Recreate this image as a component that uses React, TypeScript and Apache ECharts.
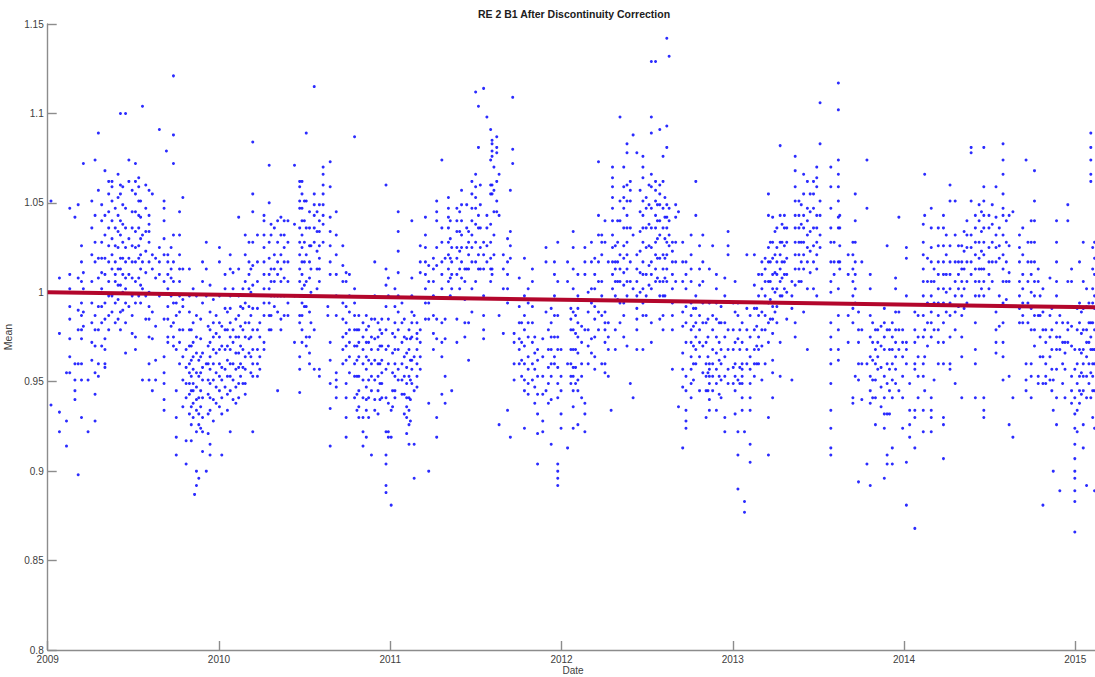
import { useEffect, useRef } from "react";
import * as echarts from "echarts";

// Axis ticks and the fitted trend line
const yearTicks = [2009, 2010, 2011, 2012, 2013, 2014, 2015];
const dateMin = 2009;
const dateMax = 2015.115;
const meanMin = 0.8;
const meanMax = 1.15;
const meanStep = 0.05;
const trendDates = [2009, 2015.115];
const trendMeans = [1.0, 0.9916];

// Daily means, grouped per acquisition day: [dayOfYear, mean, mean, ...]
const mean2009: number[][] = [
  [7, 1.051, .937], [25, 1.008, .977, .933, .922], [40, .955, .928, .914],
  [47, 1.047, 1.010, 1.002, .992, .985, .974, .964, .955], [58, 1.042, .960, .951, .945, .940],
  [65, 1.049, 1.008, .990, .979, .960, .898], [72, 1.026, 1.017, 1.006, .994, .987, .979, .974, .960, .951, .930],
  [76, 1.072, 1.011, 1.002, .989, .981], [86, .922, .951], [94, 1.051, 1.036, 1.021, 1.006, .994, .983, .972, .962],
  [101, 1.074, 1.043, 1.028, 1.017, .987, .979, .970, .955, .943, .928],
  [108, 1.089, 1.057, 1.019, 1.008, .992, .979, .960, .953],
  [115, 1.049, 1.040, 1.028, 1.019, 1.011, 1.002, .992, .983, .970],
  [122, 1.068, 1.043, 1.032, 1.019, 1.010, .994, .985, .974, .968, .960, .958],
  [130, 1.062, 1.055, 1.045, 1.036, 1.026, 1.017, 1.006, .998, .987, .979],
  [137, 1.062, 1.059, 1.051, 1.040, 1.030, 1.021, 1.013, .998, .989],
  [144, 1.047, 1.036, 1.026, 1.017, 1.010, 1.006, .994, .983],
  [150, 1.066, 1.053, 1.043, 1.034, 1.025, 1.013, 1.004, .996, .985],
  [155, 1.100, 1.060, 1.055, 1.040, 1.032, 1.019, 1.013, 1.004, .989, .979],
  [160, 1.059, 1.049, 1.038, 1.028, 1.019, 1.010, 1.000, .990],
  [166, 1.100, 1.047, 1.036, 1.025, 1.017, 1.008, 1.002, .994, .983, .966],
  [173, 1.074, 1.062, 1.030, 1.019, 1.010, .992],
  [180, 1.057, 1.045, 1.036, 1.026, 1.017, 1.008, .998, .987, .977],
  [187, 1.072, 1.062, 1.055, 1.045, 1.034, 1.025, 1.017, 1.006, .994, .975, .968],
  [194, 1.064, 1.059, 1.051, 1.043, 1.036, 1.026, 1.019, 1.008, .998],
  [198, 1.051, 1.042, 1.030, 1.021, 1.013, 1.004, .994],
  [202, 1.104, 1.032, 1.017, 1.002, .951],
  [209, 1.060, 1.047, 1.034, 1.023, 1.011, .998, .985],
  [216, 1.057, 1.043, 1.038, 1.034, 1.028, 1.017, 1.000, .992, .985, .975, .960, .951],
  [223, 1.055, 1.021, 1.013, .989, .974, .945], [230, 1.019, 1.008, .981, .962, .951],
  [238, 1.091, 1.025, 1.017, 1.010, .998],
  [248, 1.051, 1.047, 1.040, 1.030, 1.021, 1.006, .985, .964, .955, .949, .940, .934],
  [253, 1.079], [256, 1.021, 1.017, 1.010, 1.002, .992, .985, .975, .972],
  [263, 1.025, 1.013, 1.008, .998, .981],
  [268, 1.121, 1.088, 1.072, 1.032, 1.017, 1.006, .994, .983, .975, .970],
  [274, .994, .987, .968, .945, .930, .919, .909],
  [281, 1.045, 1.032, 1.021, 1.013, 1.006, .998, .989, .979, .972, .960],
  [288, 1.053, 1.013, .996, .992, .979, .964, .951, .936],
  [295, .968, .958, .949, .941, .917, .904],
  [302, 1.013, .998, .989, .979, .970, .960, .955, .949, .943, .932],
  [306, .979, .970, .962, .953, .945, .936, .926, .917],
  [310, 1.002, .983, .972, .964, .957, .949, .945, .938, .930], [313, .887],
  [317, .998, .987, .975, .966, .955, .947, .940, .934, .922, .900, .892],
  [322, .962, .953, .941, .932, .926, .896],
  [326, .985, .974, .964, .955, .945, .936, .924],
  [330, 1.017, 1.006, .994, .966, .958, .951, .941, .930, .922, .911],
  [338, 1.028, 1.013, .998, .960, .900],
  [342, .981, .970, .960, .951, .943, .932, .921],
  [346, 1.004, .989, .979, .972, .964, .957, .949, .941, .934, .915, .909],
  [353, .996, .983, .975, .968, .960, .951, .940, .928],
  [359, .987, .977, .966, .955, .947, .938],
];

const mean2010: number[][] = [
  [1, 1.025, 1.017, .998, .983, .975, .968, .960, .953, .945, .936],
  [6, .981, .970, .958, .951, .941, .932, .909], [13, 1.010, 1.002, .991, .979, .968, .957, .947],
  [18, .989, .979, .970, .962, .953, .943, .934],
  [24, 1.021, 1.013, .998, .991, .983, .975, .968, .960, .953, .945, .922],
  [30, 1.011, 1.002, .979, .972, .960, .951, .940], [36, .985, .975, .966, .957, .947, .938],
  [42, 1.042, 1.013, .998, .987, .975, .966, .958, .949, .941], [46, .992, .981, .970, .960, .953],
  [51, 1.002, .991, .979, .968, .958, .949],
  [56, 1.032, 1.021, 1.006, .994, .983, .975, .964, .957, .949, .943],
  [64, 1.028, 1.017, 1.010, 1.002, .992, .983, .974, .966], [68, 1.013, 1.000, .987, .975, .964, .955],
  [72, 1.084, 1.055, 1.045, 1.028, 1.015, 1.004, .991, .979, .968, .960, .953, .922],
  [82, 1.032, 1.017, 1.006, .991, .979, .968, .960, .953], [87, .983, .975, .964, .957],
  [96, 1.043, 1.040, 1.032, 1.025, 1.017, 1.010, 1.002, .994, .987, .972, .968],
  [107, 1.071, 1.050, 1.028, 1.019, 1.010, 1.002, .994, .987, .979],
  [111, 1.038, 1.032, 1.013, 1.006, .998, .987, .979], [118, 1.036, 1.021, 1.013, 1.006, .998, .992],
  [125, 1.040, 1.028, 1.017, 1.010, .998, .989, .945],
  [132, 1.042, 1.032, 1.021, 1.013, 1.006, .998, .985, .979],
  [139, 1.040, 1.032, 1.025, 1.017, 1.008, .998, .987], [147, 1.040, 1.028, 1.017, 1.006, .994, .987],
  [161, 1.071, 1.038, .998, .972],
  [172, 1.062, 1.059, 1.051, 1.047, 1.036, 1.028, 1.021, 1.013, 1.006, .998, .987, .983, .964, .957, .944],
  [177, 1.062, 1.055, 1.047, 1.040, 1.032, 1.025, 1.017, 1.010, 1.002, .994, .987, .979, .972],
  [182, 1.051, 1.040, 1.028, 1.017, 1.004, .992],
  [186, 1.089, 1.051, 1.036, 1.021, 1.006, .992, .975, .970],
  [193, 1.045, 1.036, 1.026, 1.017, 1.008, .998, .989, .975, .966, .960],
  [196, 1.026, 1.013, 1.000, .983],
  [203, 1.115, 1.055, 1.049, 1.043, 1.036, 1.028, .979, .957],
  [209, 1.045, 1.034, 1.023, 1.013, 1.002],
  [214, 1.049, 1.040, 1.034, 1.026, 1.019, 1.013, 1.006, .957, .953],
  [222, 1.070, 1.066, 1.060, 1.055, 1.049, 1.043, 1.038, 1.028], [232, .992, .987],
  [237, 1.073, 1.059, 1.042, 1.034, 1.026, 1.017, 1.010, .972, .962, .949, .935, .914],
  [250, 1.045, 1.032, 1.021, 1.010, .998, .987, .955, .951, .947, .941],
  [264, 1.026, 1.015, 1.006, .994, .985, .975, .968, .960],
  [271, 1.011, 1.006, .992, .983, .977, .970, .962, .949, .941, .930, .919],
  [278, 1.010, .998, .989, .979, .972, .964, .955],
  [289, 1.087, 1.002, .994, .987, .979, .970, .960, .953, .941],
  [294, .979, .970, .962, .953, .943, .934],
  [298, .987, .979, .972, .964, .953, .945, .936, .930],
  [307, .983, .975, .968, .960, .951, .941, .930, .922, .914],
  [314, .987, .979, .972, .964, .957, .947, .940, .934, .919],
  [319, .981, .972, .962, .951, .941, .930],
  [325, .985, .975, .968, .960, .953, .945, .909],
  [332, 1.017, .998, .985, .974, .962, .951, .940, .934],
  [339, .983, .975, .968, .960, .953, .945, .932], [343, .979, .970, .960, .949, .940],
  [347, .985, .977, .970, .962, .955, .949, .941],
  [356, 1.060, 1.013, 1.004, .992, .979, .968, .957, .941, .922, .909, .904, .892, .888],
  [361, 1.008, .998, .985, .970, .960, .938, .922, .919],
];

const mean2011: number[][] = [
  [2, .934, .881, .919], [5, .977, .966, .955, .945, .936],
  [10, 1.002, .992, .983, .975, .968, .960, .953, .945, .941],
  [17, 1.045, 1.034, 1.023, 1.011, .998, .989, .979, .968, .957, .951],
  [25, .994, .983, .972, .960, .951, .943], [30, .985, .975, .964, .953, .943, .932],
  [35, .974, .966, .958, .949, .941, .936, .930, .921],
  [40, .979, .968, .953, .941, .934, .926, .915], [43, .974, .962, .951, .940, .928],
  [46, 1.040, 1.008, .998, .989, .983, .975, .962, .957, .949], [51, .987, .964, .945, .915, .896],
  [57, .983, .977, .974, .968, .960, .953, .947], [64, 1.026, 1.017, 1.011, .979, .972, .964, .957],
  [75, 1.042, 1.032, 1.025, 1.017, 1.010, 1.002, .994, .985], [82, 1.015, 1.006, .994, .985, .938, .900],
  [92, 1.019, 1.013, 1.006, .998, .987, .977, .968],
  [99, 1.051, 1.045, 1.040, 1.025, 1.015, .985, .974, .930, .919],
  [110, 1.074, 1.036, 1.028, 1.017, 1.010, 1.002, .983, .972, .964, .943],
  [117, 1.019, .985, .974, .953, .938], [124, 1.053, 1.047, 1.042, 1.036, 1.028, 1.021, 1.013, 1.006],
  [128, 1.040, 1.030, 1.019, 1.008, .998],
  [131, 1.025, 1.017, 1.010, 1.002, .945], [142, 1.047, 1.040, 1.034, 1.025, 1.019, 1.010, .985, .972],
  [148, 1.045, 1.034, 1.023, 1.013, 1.002],
  [152, 1.057, 1.049, 1.040, 1.032, 1.025, 1.017, 1.008], [159, 1.013, 1.006, .996, .983, .975],
  [163, 1.049, 1.036, 1.025, 1.013],
  [167, 1.034, 1.028, 1.021, 1.013, .983, .962],
  [174, 1.062, 1.055, 1.047, 1.040, 1.032, 1.025, 1.017, 1.002, .989],
  [182, 1.112, 1.066, 1.059, 1.053, 1.047, 1.038, 1.028, 1.017, 1.006],
  [188, 1.104, 1.081, 1.043, 1.036, 1.021, 1.013], [192, 1.060, 1.049, 1.036, 1.025, 1.013],
  [199, 1.114, 1.028, 1.021, 1.013, .998, .987, .979, .974],
  [206, 1.098, 1.043, 1.036, 1.026, 1.017],
  [214, 1.091, 1.074, 1.060, 1.055, 1.038, 1.028, 1.019, 1.013, 1.006],
  [217, 1.085, 1.083, 1.079, 1.076, 1.060, 1.055, 1.013, 1.010],
  [221, 1.070, 1.057, 1.045, 1.032, 1.021],
  [227, 1.087, 1.081, 1.078, 1.062, 1.051, 1.045], [232, 1.066, 1.043, .987, .926],
  [241, 1.021, 1.013, 1.002, .977], [250, 1.030, 1.017, 1.010, 1.002, .994, .934],
  [256, 1.057, 1.034, 1.026, 1.019, .919], [261, 1.109, 1.080, 1.072], [264, .977, .972, .960, .951],
  [275, 1.008, .992, .983, .974, .968, .960], [280, .983, .972, .962, .953],
  [286, 1.019, .998, .987, .979, .970, .960, .951, .945, .924],
  [294, 1.002, .994, .983, .975, .964, .957, .949, .943], [303, 1.013, 1.006, .992, .983, .972, .960, .951],
  [308, .975, .966, .957, .947, .938],
  [314, .968, .962, .953, .943, .932, .921, .904], [325, .974, .964, .953, .943, .928, .922],
  [332, 1.025, 1.017, .989, .945], [337, .979, .968, .958, .949, .938],
  [343, .991, .983, .975, .968, .960, .953, .940, .915],
  [350, 1.017, 1.010, .998, .987, .975, .964, .960],
  [357, 1.028, 1.006, .987, .975, .968, .958, .949, .941, .904, .900, .896, .892],
  [364, .968, .953, .945, .932, .924],
];

const mean2012: number[][] = [
  [13, 1.017, 1.006, .960, .913], [20, .991, .985, .979, .968, .960, .953, .949],
  [25, 1.034, 1.025, 1.013, 1.002, .989, .979, .968, .958, .953, .945, .936, .924],
  [30, .987, .977, .968, .958, .949],
  [35, 1.010, .998, .991, .983, .975, .966, .951, .945, .926], [43, .981, .972, .960, .953, .941],
  [50, 1.025, 1.017, 1.010, .979, .938, .932, .922], [57, 1.000, .989, .979, .970, .960],
  [64, 1.028, 1.017, 1.002, .994, .974, .966],
  [71, 1.019, 1.010, 1.002, .992, .985, .975, .964, .957],
  [79, 1.073, 1.043, 1.032, 1.017, 1.006, .989, .979], [86, 1.032, 1.028, 1.021, 1.006, .998, .987, .960],
  [93, 1.040, 1.028, .989, .983, .979, .972, .960, .955], [100, 1.017, .983, .975, .968, .953], [106, .934],
  [109, 1.070, 1.064, 1.059, 1.053, 1.047, 1.040, 1.032, 1.025, 1.017, 1.010, 1.002],
  [115, 1.026, 1.017, 1.013, 1.006, .998, .979, .968], [120, 1.040, 1.028, 1.017, 1.006, .996],
  [125, 1.098, 1.051, 1.040, 1.021, 1.013, 1.006, .994, .983],
  [133, 1.070, 1.059, 1.053, 1.047, 1.036, 1.026, 1.019, 1.011, 1.004, .994, .987, .975],
  [140, 1.083, 1.078, 1.060, 1.051, 1.043, 1.036, 1.028, 1.021, 1.013, 1.006, .998, .970],
  [147, 1.062, 1.057, 1.051, 1.036, 1.017, 1.006, .949], [153, 1.088, 1.032, 1.002, .941],
  [161, 1.078, 1.021, 1.013, 1.006, .998, .991, .985, .979, .968],
  [168, 1.057, 1.045, 1.034, 1.023, 1.011, 1.000],
  [174, 1.076, 1.070, 1.064, 1.051, 1.043, 1.036, 1.028, 1.017, 1.010, 1.002, .994, .987, .968],
  [181, 1.053, 1.047, 1.036, 1.025, 1.010, .998, .987],
  [187, 1.060, 1.049, 1.038, 1.026, 1.015, 1.004],
  [192, 1.129, 1.098, 1.089, 1.066, 1.059, 1.047, 1.036, 1.025, 1.017, 1.010, 1.002, .983, .972],
  [201, 1.129, 1.062, 1.057, 1.051, 1.043, 1.036, 1.028, 1.021, 1.013, 1.006],
  [205, 1.049, 1.040, 1.030, 1.019, 1.008],
  [210, 1.091, 1.060, 1.055, 1.049, 1.040, 1.032, 1.019, 1.006, .998, .985],
  [217, 1.076, 1.062, 1.047, 1.036, 1.021, 1.013, 1.006, .998, .987, .979],
  [221, 1.053, 1.042, 1.030, 1.019, 1.008, .998],
  [225, 1.142, 1.093, 1.081, 1.049, 1.042, 1.036, 1.028, 1.021, 1.013, 1.006],
  [230, 1.132, 1.047, 1.040, 1.032, 1.026],
  [237, 1.028, 1.023, 1.017, 1.010, 1.002, .994, .987, .979, .957],
  [244, 1.049, 1.042, 1.028, 1.017, 1.006], [250, 1.045, .936],
  [259, 1.028, 1.017, 1.006, .989, .981, .966, .957, .947, .913],
  [266, 1.017, 1.010, 1.002, .992, .983, .972, .953, .945, .934, .928, .924],
  [277, 1.032, 1.021, 1.013, 1.006, .994, .987, .979, .972, .964, .957, .949, .941],
  [282, .991, .981, .970, .960, .951],
  [287, 1.062, 1.043, .998, .991, .983, .975, .968, .960],
  [295, 1.026, 1.013, 1.004, .987, .979, .972, .964, .945],
  [302, 1.032, 1.017, 1.006, .994, .983, .970, .955], [309, .983, .972, .960, .953, .945, .930],
  [313, .985, .975, .964, .955, .945],
  [316, 1.013, .994, .960, .957, .953, .949, .940, .934], [323, 1.026, .987, .979, .968, .960, .953, .945],
  [331, 1.010, 1.002, .994, .985, .975, .966, .957, .949, .934], [337, .983, .972, .962, .953, .943],
  [341, .992, .983, .968, .960, .951, .941],
  [349, 1.008, .998, .983, .975, .964, .953, .930, .922], [356, 1.034, 1.026, 1.021, .979, .968, .957, .949],
];

const mean2013: number[][] = [
  [1, .994, .979, .968, .958, .949], [5, 1.006, .989, .972, .960, .953, .945, .932],
  [11, .994, .987, .974, .951, .922, .909, .890], [15, .979, .968, .958, .949],
  [20, .983, .972, .960, .957, .953, .949, .941, .934],
  [25, .922, .883, .877], [30, 1.021, .991, .979, .968, .960],
  [37, .987, .975, .964, .957, .949, .941, .934, .915, .905],
  [46, 1.021, 1.004, .991, .979, .968, .960, .953], [51, .991, .981, .970, .960],
  [55, 1.010, .998, .987, .975, .968, .960],
  [62, 1.017, 1.010, 1.002, .989, .979, .970, .951], [69, 1.019, 1.013, 1.006, .998, .987, .979, .960],
  [76, 1.055, 1.043, 1.025, 1.017, 1.006, .994, .983, .972, .930, .909],
  [80, 1.028, 1.017, 1.006, .996, .985],
  [85, 1.042, 1.028, 1.019, 1.010, 1.002, .992, .985, .977, .962, .955, .941],
  [90, 1.034, 1.021, 1.011, 1.000, .989],
  [94, 1.036, 1.025, 1.017, 1.010, 1.002, .992, .983],
  [101, 1.082, 1.043, 1.028, 1.021, 1.013, 1.006, .998, .972, .953],
  [105, 1.038, 1.028, 1.017, 1.008, .998],
  [110, 1.043, 1.036, 1.026, 1.017, 1.010, 1.002], [115, 1.036, 1.028, 1.019, 1.010, 1.000, .985],
  [126, 1.006, .998, .991, .951],
  [133, 1.076, 1.068, 1.059, 1.051, 1.043, 1.036, 1.028, 1.021, 1.013, 1.004, .994, .983, .975],
  [141, 1.051, 1.043, 1.036, 1.028, 1.021, 1.013, 1.006],
  [146, 1.049, 1.038, 1.028, 1.017, 1.006],
  [151, 1.066, 1.055, 1.043, 1.036, 1.028, 1.021, 1.013, .989],
  [159, 1.062, 1.047, 1.040, 1.032, 1.025, 1.017, 1.002, .968],
  [165, 1.055, 1.045, 1.034, 1.023, 1.011],
  [172, 1.062, 1.055, 1.047, 1.036, 1.026, 1.017, 1.002],
  [179, 1.070, 1.064, 1.059, 1.043, 1.036, 1.028, 1.021, 1.013, .998],
  [186, 1.106, 1.083, 1.051, 1.043, 1.032, 1.025],
  [209, 1.070, 1.059, 1.047, 1.036, 1.028, 1.017, 1.006, 1.000, .983, .975, .968, .960, .949, .934, .924, .913, .909],
  [216, 1.028, 1.017, 1.010],
  [225, 1.117, 1.102, 1.074, 1.066, 1.059, 1.051, 1.042, 1.036, 1.017, 1.002, .987, .979, .968, .962],
  [228, 1.043, 1.036, 1.026, 1.017, 1.013], [246, 1.021, 1.010, .987, .972],
  [256, 1.028, 1.021, 1.013, 1.006, .998, .991, .983, .941, .938],
  [261, 1.055, 1.040, 1.028, 1.017, 1.010, 1.002, .994, .953], [268, .989, .979, .972, .960, .951, .894],
  [275, 1.017, .979, .960, .940], [286, 1.074, 1.047, .960, .904],
  [293, 1.010, 1.002, .987, .975, .964, .953, .945, .938, .892], [298, .983, .972, .962, .951, .941],
  [304, .979, .968, .960, .951, .941, .926],
  [309, .979, .972, .964, .957], [316, .981, .970, .958, .947, .936],
  [323, .991, .983, .975, .968, .953, .941, .932, .924, .896],
  [329, 1.026, .979, .960, .949, .932, .909, .904], [334, .979, .968, .957, .945, .932],
  [340, .983, .975, .968, .960, .951, .941, .913, .904],
  [347, 1.008, 1.002, .989, .979, .972, .964, .957, .949], [354, 1.042, .989, .979, .968, .945],
  [362, .979, .972, .964, .953, .941, .924],
];

const mean2014: number[][] = [
  [5, 1.025, 1.019, .998, .972, .968, .960, .905, .881], [12, .949, .934, .926, .919],
  [23, .989, .979, .972, .960, .957, .934, .930, .913, .868], [30, .987, .975, .964, .953, .941],
  [41, 1.038, 1.028, 1.021, 1.013, 1.006, .998, .987, .975, .960, .953, .934, .922],
  [44, 1.066, 1.043, .979, .964, .945], [50, 1.019, 1.006, .994, .983, .970],
  [58, 1.047, 1.036, 1.025, 1.017, 1.006, .998, .989, .983, .975, .941, .934, .930, .922],
  [64, 1.013, 1.006, .994, .979, .951], [73, 1.036, 1.026, 1.017, 1.010, 1.002, .994, .987, .979, .972, .960],
  [84, 1.043, 1.036, 1.026, 1.017, 1.010, 1.002, .994, .983, .972, .960, .930, .926, .907],
  [90, 1.032, 1.021, 1.010, 1.000, .989],
  [98, 1.060, 1.051, 1.026, 1.017, 1.010, 1.002, .994, .987, .975, .960, .957],
  [109, 1.051, 1.032, 1.017, 1.006, .998, .989, .979, .949], [116, 1.026, 1.017, 1.010, 1.002, .992],
  [123, 1.026, 1.017, 1.013, 1.006, .998, .987, .975, .964, .941],
  [128, 1.034, 1.023, 1.013, 1.002, .991],
  [134, 1.040, 1.032, 1.025, 1.017, 1.006, .994], [143, 1.081, 1.078, 1.051, 1.032, 1.025, 1.017, 1.010],
  [152, 1.043, 1.036, 1.028, 1.021, 1.013, 1.006, .998, .983, .968, .960, .941],
  [160, 1.049, 1.040, 1.028, 1.019, 1.013, 1.006, .998], [165, 1.045, 1.034, 1.023, 1.013, 1.002],
  [170, 1.081, 1.059, 1.051, 1.043, 1.036, 1.028, 1.021, 1.013, 1.006, .998, .941, .934, .930],
  [181, 1.043, 1.036, 1.025, 1.017, 1.010, 1.002], [188, 1.049, 1.038, 1.028, 1.017, 1.006],
  [196, 1.059, 1.042, 1.032, 1.025, 1.017, .989, .979, .972, .966], [203, 1.036, 1.026, 1.019, .998, .981],
  [211, 1.083, 1.074, 1.066, 1.055, 1.047, 1.043, 1.032, 1.021, 1.013, 1.006, .994, .983, .972, .964, .951],
  [218, 1.040, 1.028, 1.017, 1.006, .996],
  [224, 1.043, 1.026, 1.011, 1.006, .953, .926], [232, 1.045, .941, .919],
  [246, 1.032, 1.025, 1.017, 1.006, .998, .991, .983], [253, 1.036, 1.021, 1.010, 1.002, .994, .987, .983],
  [260, 1.074, .960, .951, .945], [264, 1.028, 1.017, 1.006, .994, .983],
  [271, 1.040, 1.028, 1.017, 1.010, 1.000, .991, .979, .960, .953, .941],
  [278, 1.068, 1.051, 1.040, 1.028, 1.017, 1.006, .998, .987, .979, .970],
  [286, 1.013, 1.006, .987, .953, .949], [290, .998, .987, .975, .964],
  [296, 1.002, .989, .979, .964, .949, .881],
  [302, .979, .972, .960, .953, .949], [311, 1.008, .987, .975, .964, .951],
  [315, .991, .979, .968, .957, .945], [318, .951, .934, .900],
  [325, 1.040, 1.028, 1.017, 1.006, .998, .983, .975, .968, .957, .941, .926],
  [332, .987, .975, .968, .889], [338, .983, .972, .960, .949], [343, .972, .966, .957, .941],
  [349, 1.049, 1.040, 1.006, .992, .983, .979, .972], [357, 1.013, 1.006, .992, .981, .970, .953, .945, .938],
  [364, .968, .957, .941, .932, .924, .915, .907, .900, .896, .889, .883, .866],
];

const mean2015: number[][] = [
  [4, .991, .979, .960, .949, .934, .922], [9, 1.017, .994, .983, .968, .953, .945, .938],
  [13, .989, .977, .966, .955, .943],
  [17, 1.028, 1.006, .991, .979, .968, .960, .953, .945, .926, .913],
  [24, 1.002, .992, .979, .972, .964, .953, .941, .892], [29, .994, .983, .972, .960, .949],
  [33, 1.089, 1.081, 1.074, 1.066, 1.062, .983, .975, .968, .955, .941],
  [37, 1.025, 1.013, 1.002, .994, .983, .968, .960, .953, .945, .930],
  [41, 1.028, 1.019, 1.010, .998, .991, .979, .968, .960, .945, .924, .889],
];

const meansByYear: [number, number[][]][] = [
  [2009, mean2009], [2010, mean2010], [2011, mean2011], [2012, mean2012],
  [2013, mean2013], [2014, mean2014], [2015, mean2015],
];

function toPoints(): number[][] {
  const pts: number[][] = [];
  for (const [year, cols] of meansByYear) {
    const len = year % 4 === 0 ? 366 : 365;
    for (const [doy, ...vals] of cols) {
      for (const v of vals) pts.push([year + doy / len, v]);
    }
  }
  return pts;
}

const FONT = "'Liberation Sans', Arial, Helvetica, sans-serif";
const AXIS_GRAY = "#8c8c8c";
const LABEL_GRAY = "#404040";

export default function App() {
  const ref = useRef<HTMLDivElement>(null);

  useEffect(() => {
    if (!ref.current) return;
    const chart = echarts.init(ref.current, undefined, { renderer: "svg" });
    chart.setOption({
      animation: false,
      backgroundColor: "#ffffff",
      grid: {
        left: 47.7,
        right: 0,
        top: 24,
        bottom: 27,
        containLabel: false,
        outerBoundsMode: "none",
      },
      graphic: [
        {
          type: "text",
          x: 574,
          y: 14,
          style: {
            text: "RE 2 B1 After Discontinuity Correction",
            fill: "#202020",
            font: `bold 10.5px ${FONT}`,
            textAlign: "center",
            textVerticalAlign: "middle",
          },
        },
        {
          type: "text",
          x: 573,
          y: 670,
          style: {
            text: "Date",
            fill: LABEL_GRAY,
            font: `10px ${FONT}`,
            textAlign: "center",
            textVerticalAlign: "middle",
          },
        },
      ],
      xAxis: {
        type: "value",
        min: dateMin,
        max: dateMax,
        interval: 1,
        axisLine: { lineStyle: { color: AXIS_GRAY, width: 1.4 } },
        axisTick: { inside: true, length: 9, customValues: yearTicks, lineStyle: { color: AXIS_GRAY, width: 1.4 } },
        axisLabel: {
          customValues: yearTicks,
          color: LABEL_GRAY,
          fontSize: 10,
          fontFamily: FONT,
          margin: 4,
          formatter: (v: number) => String(Math.round(v)),
        },
        splitLine: { show: false },
      },
      yAxis: {
        type: "value",
        min: meanMin,
        max: meanMax,
        interval: meanStep,
        name: "Mean",
        nameLocation: "middle",
        nameGap: 27,
        nameTextStyle: { color: LABEL_GRAY, fontSize: 10.5, fontFamily: FONT },
        axisLine: { show: true, lineStyle: { color: AXIS_GRAY, width: 1.4 } },
        axisTick: { show: true, inside: true, length: 9, lineStyle: { color: AXIS_GRAY, width: 1.4 } },
        axisLabel: {
          color: LABEL_GRAY,
          fontSize: 10,
          fontFamily: FONT,
          margin: 4,
          formatter: (v: number) => String(parseFloat(v.toFixed(2))),
        },
        splitLine: { show: false },
      },
      series: [
        {
          type: "scatter",
          data: toPoints(),
          symbol: "circle",
          symbolSize: 3,
          itemStyle: { color: "#1414ff", opacity: 0.9 },
          z: 2,
        },
        {
          type: "line",
          data: trendDates.map((d, i) => [d, trendMeans[i]]),
          symbol: "none",
          lineStyle: { color: "#b3062c", width: 4 },
          z: 3,
        },
      ],
    });
    return () => chart.dispose();
  }, []);

  return (
    <div
      ref={ref}
      style={{ position: "fixed", left: 0, top: 0, width: 1095, height: 677, background: "#fff" }}
    />
  );
}
